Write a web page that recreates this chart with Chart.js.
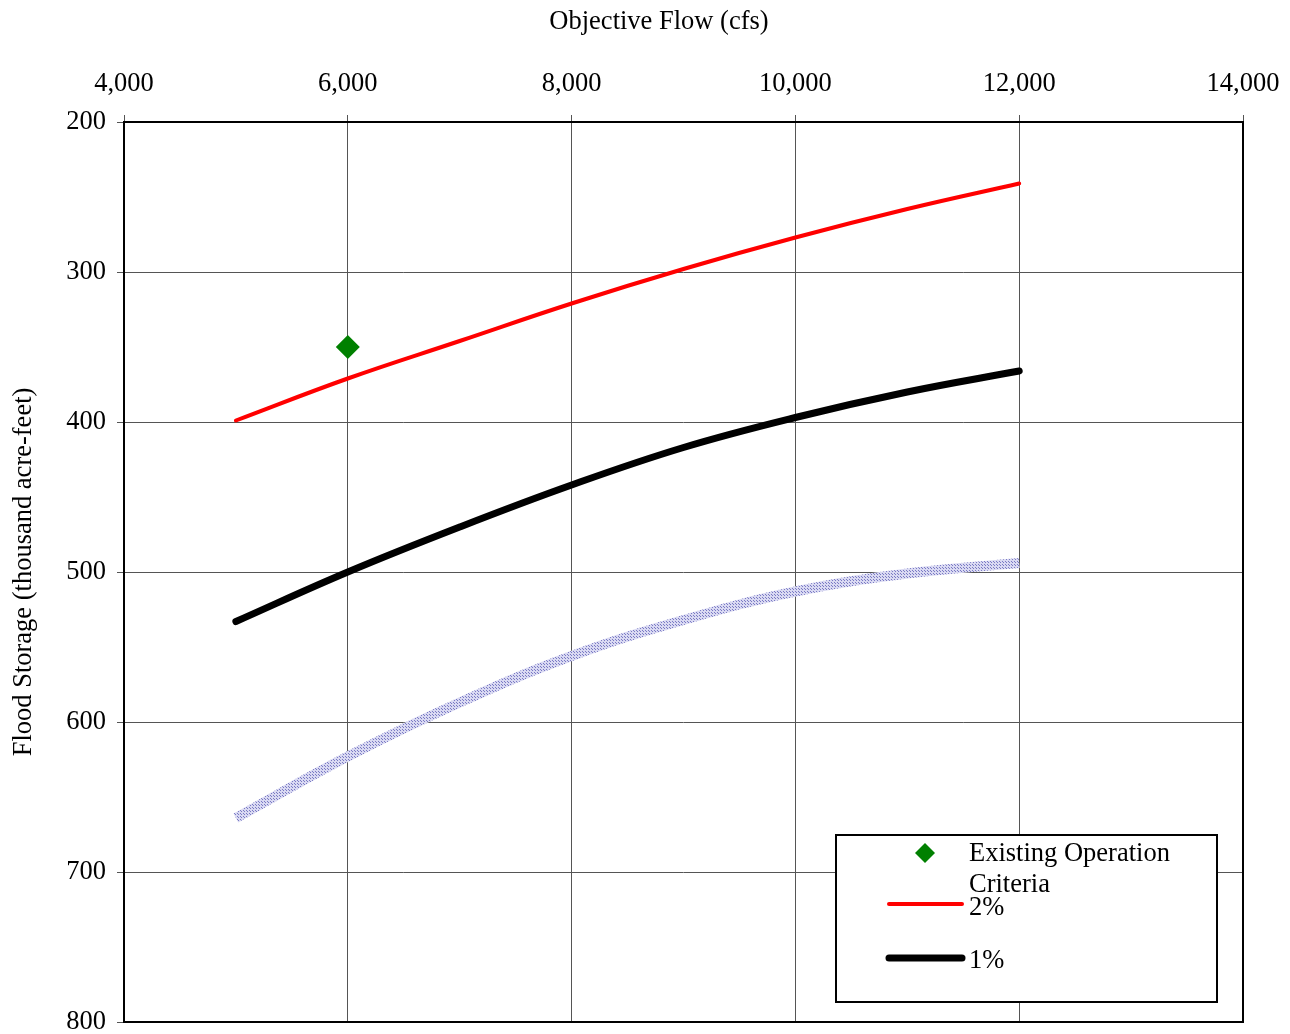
<!DOCTYPE html>
<html>
<head>
<meta charset="utf-8">
<script src="https://cdn.jsdelivr.net/npm/chart.js@4"></script>
<style>
  html, body { margin: 0; padding: 0; background: #fff; }
  #wrap { width: 1290px; height: 1034px; }
</style>
</head>
<body>
<div id="wrap"><canvas id="chart" width="1290" height="1034"></canvas></div>
<script>
// ---- data ----
const flows = [5000, 6000, 7000, 8000, 9000, 10000, 11000, 12000];
const storage2pct = [399, 371, 346, 321, 298, 277, 258, 241];
const storage1pct = [533, 500, 470, 442, 417, 397, 380, 366];
const storageHalfPct = [664, 623, 587, 556, 532, 513, 501, 494];
const existingFlow = [6000];
const existingStorage = [350];
const xTicks = [4000, 6000, 8000, 10000, 12000, 14000];
const yTicks = [200, 300, 400, 500, 600, 700, 800];
const xTitle = 'Objective Flow (cfs)';

const FONT = 'Liberation Serif, "Times New Roman", serif';
const FSIZE = 26.5;
const toPoints = (xs, ys) => xs.map((x, i) => ({ x, y: ys[i] }));

// hatched lavender pattern for the third curve
function makeHatch() {
  const p = document.createElement('canvas');
  p.width = 3; p.height = 3;
  const c = p.getContext('2d');
  c.fillStyle = '#d9d9f2';
  c.fillRect(0, 0, 3, 3);
  c.fillStyle = '#7a7ac4';
  c.fillRect(0, 0, 1, 1);
  c.fillRect(1, 1, 1, 1);
  return document.getElementById('chart').getContext('2d').createPattern(p, 'repeat');
}

// frame, top title + legend drawn on top of the plot
const framePlugin = {
  id: 'frame',
  afterDraw(chart) {
    const { ctx, chartArea: a } = chart;
    ctx.save();
    ctx.strokeStyle = '#000';
    ctx.lineWidth = 2;
    ctx.strokeRect(a.left, a.top, a.right - a.left, a.bottom - a.top);

    ctx.font = FSIZE + 'px ' + FONT;
    ctx.fillStyle = '#000';
    ctx.textBaseline = 'middle';
    ctx.textAlign = 'center';
    ctx.fillText(xTitle, 659, 22);

    // legend box
    const bx = 836, by = 835, bw = 381, bh = 167;
    ctx.fillStyle = '#fff';
    ctx.fillRect(bx, by, bw, bh);
    ctx.strokeRect(bx, by, bw, bh);

    ctx.textAlign = 'left';
    const ds = chart.data.datasets;
    // diamond
    ctx.fillStyle = '#008000';
    ctx.beginPath();
    ctx.moveTo(925, 843); ctx.lineTo(935, 853); ctx.lineTo(925, 863); ctx.lineTo(915, 853);
    ctx.closePath(); ctx.fill();
    ctx.fillStyle = '#000';
    const lines = ds[0].label.split('\n');
    ctx.fillText(lines[0], 969, 854);
    ctx.fillText(lines[1], 969, 885);

    ctx.lineCap = 'round';
    ctx.strokeStyle = '#ff0000'; ctx.lineWidth = 4;
    ctx.beginPath(); ctx.moveTo(889, 904); ctx.lineTo(962, 904); ctx.stroke();
    ctx.fillText(ds[1].label, 969, 908);

    ctx.strokeStyle = '#000'; ctx.lineWidth = 7;
    ctx.beginPath(); ctx.moveTo(889, 958); ctx.lineTo(962, 958); ctx.stroke();
    ctx.fillText(ds[2].label, 969, 961);
    ctx.restore();
  }
};

new Chart(document.getElementById('chart'), {
  type: 'scatter',
  data: {
    datasets: [
      {
        label: 'Existing Operation\nCriteria',
        data: toPoints(existingFlow, existingStorage),
        pointStyle: 'rectRot',
        pointRadius: 12,
        backgroundColor: '#008000',
        borderColor: '#008000',
        borderWidth: 0,
        order: 0
      },
      {
        label: '2%',
        data: toPoints(flows, storage2pct),
        showLine: true,
        borderColor: '#ff0000',
        borderWidth: 4,
        borderCapStyle: 'round',
        tension: 0.4,
        pointRadius: 0,
        order: 1
      },
      {
        label: '1%',
        data: toPoints(flows, storage1pct),
        showLine: true,
        borderColor: '#000000',
        borderWidth: 7,
        borderCapStyle: 'round',
        tension: 0.4,
        pointRadius: 0,
        order: 2
      },
      {
        label: '0.5%',
        data: toPoints(flows, storageHalfPct),
        showLine: true,
        borderColor: makeHatch(),
        borderWidth: 10,
        borderCapStyle: 'butt',
        tension: 0.4,
        pointRadius: 0,
        order: 3
      }
    ]
  },
  options: {
    responsive: false,
    animation: false,
    layout: { padding: { left: 0, top: 0, right: 47, bottom: 12 } },
    plugins: {
      legend: { display: false },
      tooltip: { enabled: false }
    },
    scales: {
      x: {
        type: 'linear',
        position: 'top',
        min: xTicks[0],
        max: xTicks[xTicks.length - 1],
        afterBuildTicks: (s) => { s.ticks = xTicks.map(v => ({ value: v })); },
        afterFit: (s) => { s.height = 122; s.paddingLeft = 0; s.paddingRight = 0; },
        ticks: {
          color: '#000',
          font: { family: FONT, size: FSIZE },
          padding: 15,
          maxRotation: 0,
          callback: (v) => Number(v).toLocaleString('en-US')
        },
        grid: { color: '#555', lineWidth: 1, tickLength: 7 },
        border: { display: false },
        title: { display: false }
      },
      y: {
        type: 'linear',
        reverse: true,
        min: yTicks[0],
        max: yTicks[yTicks.length - 1],
        afterBuildTicks: (s) => { s.ticks = yTicks.map(v => ({ value: v })); },
        afterFit: (s) => { s.width = 124; s.paddingTop = 0; s.paddingBottom = 0; },
        ticks: {
          color: '#000',
          font: { family: FONT, size: FSIZE },
          padding: 11
        },
        grid: { color: '#555', lineWidth: 1, tickLength: 7 },
        border: { display: false },
        title: {
          display: true,
          text: 'Flood Storage (thousand acre-feet)',
          color: '#000',
          font: { family: FONT, size: FSIZE },
          padding: { top: 8, bottom: 0 }
        }
      }
    }
  },
  plugins: [framePlugin]
});
</script>
</body>
</html>
